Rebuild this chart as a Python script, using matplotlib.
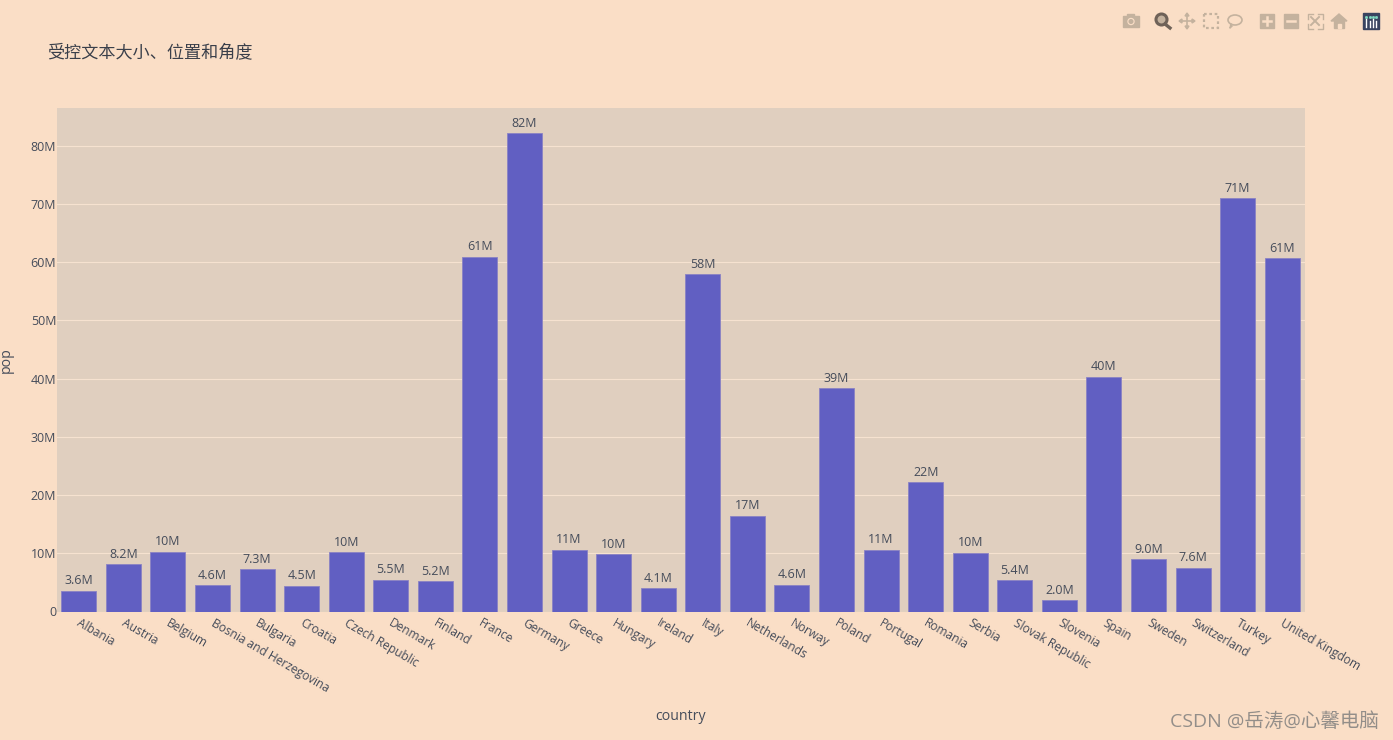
#! /usr/bin/env python

# Imports
import matplotlib
matplotlib.use('Agg')
import matplotlib.pyplot as plt
from matplotlib.patches import Circle, Rectangle, Polygon, Ellipse
from matplotlib.ticker import FuncFormatter
from matplotlib.transforms import ScaledTranslation

plt.rcParams['font.family'] = ['Open Sans', 'Noto Sans CJK SC', 'DejaVu Sans']

# Data
countries = ['Albania', 'Austria', 'Belgium', 'Bosnia and Herzegovina', 'Bulgaria', 'Croatia',
             'Czech Republic', 'Denmark', 'Finland', 'France', 'Germany', 'Greece', 'Hungary',
             'Ireland', 'Italy', 'Netherlands', 'Norway', 'Poland', 'Portugal', 'Romania',
             'Serbia', 'Slovak Republic', 'Slovenia', 'Spain', 'Sweden', 'Switzerland',
             'Turkey', 'United Kingdom']
pop = [3.6, 8.15, 10.3, 4.5, 7.3, 4.45, 10.15, 5.45, 5.2, 60.95, 82.2, 10.6, 9.9, 4.05, 58.0,
       16.45, 4.6, 38.4, 10.6, 22.2, 10.1, 5.4, 2.0, 40.35, 9.0, 7.55, 71.0, 60.65]
pop_labels = ['3.6M', '8.2M', '10M', '4.6M', '7.3M', '4.5M', '10M', '5.5M', '5.2M', '61M', '82M',
              '11M', '10M', '4.1M', '58M', '17M', '4.6M', '39M', '11M', '22M', '10M', '5.4M',
              '2.0M', '40M', '9.0M', '7.6M', '71M', '61M']

W, H = 1393, 740
PAPER = '#fadec6'
PLOT_BG = '#e0cfbf'
BAR = '#615fc2'
TEXT = '#454c5a'

fig = plt.figure(figsize=(W / 100, H / 100), dpi=100, facecolor=PAPER)
ax = fig.add_axes([57 / W, 1 - 611.5 / H, 1248 / W, 503.5 / H], facecolor=PLOT_BG)

# bars and their labels
ax.bar(range(len(countries)), pop, width=0.785, color=BAR, edgecolor='#8a82c4', linewidth=0.6, zorder=3)
for i, label in enumerate(pop_labels):
    ax.annotate(label, (i, pop[i]), xytext=(0, 2.4), textcoords='offset points', ha='center',
                va='bottom', fontsize=9, color=TEXT, zorder=4)

ax.set_xlim(-0.49, 27.51)
ax.set_ylim(0, 86.5)
ax.set_yticks(range(0, 90, 10))
ax.yaxis.set_major_formatter(FuncFormatter(lambda v, p: '0' if v == 0 else f'{v:.0f}M'))
ax.grid(axis='y', color='#f6e2d0', linewidth=0.8, zorder=1)
ax.set_axisbelow(True)
ax.tick_params(axis='y', length=0, pad=0.5, labelsize=9, labelcolor=TEXT)

ax.set_xticks(range(len(countries)))
ax.set_xticklabels(countries, rotation=-30, ha='left', va='top', rotation_mode='anchor')
ax.tick_params(axis='x', length=0, pad=3.5, labelsize=8.65, labelcolor=TEXT)
# nudge the slanted labels a little to the right
nudge = ScaledTranslation(2.5 / 100, 0, fig.dpi_scale_trans)
for label in ax.get_xticklabels():
    label.set_transform(label.get_transform() + nudge)
for spine in ax.spines.values():
    spine.set_visible(False)

# titles
fig.text(47 / W, 1 - 53.5 / H, '受控文本大小、位置和角度', fontsize=12.3, color='#3a3f4a', va='center', ha='left')
fig.text(681 / W, 1 - 716 / H, 'country', fontsize=10.2, color=TEXT, ha='center', va='center')
fig.text(6.5 / W, 1 - 360 / H, 'pop', fontsize=10.2, color=TEXT, rotation=90, ha='center', va='center')

# watermark
fig.text(1379 / W, 1 - 721 / H, 'CSDN @岳涛@心馨电脑', fontsize=14, color='#938e89', ha='right', va='center')

# modebar icons, overlay in pixel coordinates
ov = fig.add_axes([0, 0, 1, 1], facecolor='none')
ov.set_xlim(0, W)
ov.set_ylim(H, 0)
ov.axis('off')
ICON = '#c4b29e'
DARK = '#6f6258'

# camera
ov.add_patch(Rectangle((1123, 16), 16, 11, color=ICON))
ov.add_patch(Rectangle((1127, 14), 7, 3, color=ICON))
ov.add_patch(Circle((1131, 21.5), 3, color=PAPER))
ov.add_patch(Circle((1131, 21.5), 1.8, color=ICON))
# zoom
ov.add_patch(Circle((1161.5, 19.5), 5.5, facecolor=ICON, edgecolor=DARK, linewidth=2.2))
ov.plot([1165, 1170], [24, 28], color=DARK, linewidth=2.4)
# pan
ov.plot([1187, 1187], [14, 28], color=ICON, linewidth=1.2)
ov.plot([1180, 1194], [21, 21], color=ICON, linewidth=1.2)
for tri in ([(1185, 16), (1189, 16), (1187, 13)], [(1185, 26), (1189, 26), (1187, 29)],
            [(1182, 19), (1182, 23), (1179, 21)], [(1192, 19), (1192, 23), (1195, 21)]):
    ov.add_patch(Polygon(tri, color=ICON))
# box select
ov.add_patch(Rectangle((1204, 14), 14, 14, fill=False, edgecolor=ICON, linewidth=1.6, linestyle=(0, (1.2, 1.2))))
# lasso
ov.add_patch(Ellipse((1235, 20), 14, 10, fill=False, edgecolor=ICON, linewidth=1.2))
ov.plot([1231, 1230, 1232], [24, 28, 26], color=ICON, linewidth=1.1)
# zoom in / out
ov.add_patch(Rectangle((1260, 14), 14, 14, color=ICON))
ov.plot([1263, 1271], [21, 21], color=PAPER, linewidth=1.8)
ov.plot([1267, 1267], [17, 25], color=PAPER, linewidth=1.8)
ov.add_patch(Rectangle((1284, 14), 14, 14, color=ICON))
ov.plot([1287, 1295], [21, 21], color=PAPER, linewidth=1.8)
# autoscale
for x0, y0, dx, dy in ((1307.5, 13.5, 1, 1), (1322.5, 13.5, -1, 1), (1307.5, 28.5, 1, -1), (1322.5, 28.5, -1, -1)):
    ov.plot([x0 + 5 * dx, x0, x0], [y0, y0, y0 + 5 * dy], color=ICON, linewidth=1)
ov.plot([1311, 1319], [17, 25], color=ICON, linewidth=1.4)
ov.plot([1319, 1311], [17, 25], color=ICON, linewidth=1.4)
# home
ov.add_patch(Polygon([(1331, 21), (1339, 14), (1347, 21)], color=ICON))
ov.add_patch(Rectangle((1334, 21), 10, 7, color=ICON))
ov.add_patch(Rectangle((1337.5, 24), 3, 4, color=PAPER))
# plotly logo
ov.add_patch(Rectangle((1363, 13), 16, 16, color='#3a4460'))
for xb, top in ((1366, 19), (1369.5, 21), (1372.5, 19), (1375.5, 21)):
    ov.plot([xb, xb], [top, 26.5], color='white', linewidth=1)
    ov.plot([xb], [16.5], marker='s', markersize=1, color='#7fd8c0')

plt.savefig('out.png', dpi=100, facecolor=PAPER)
